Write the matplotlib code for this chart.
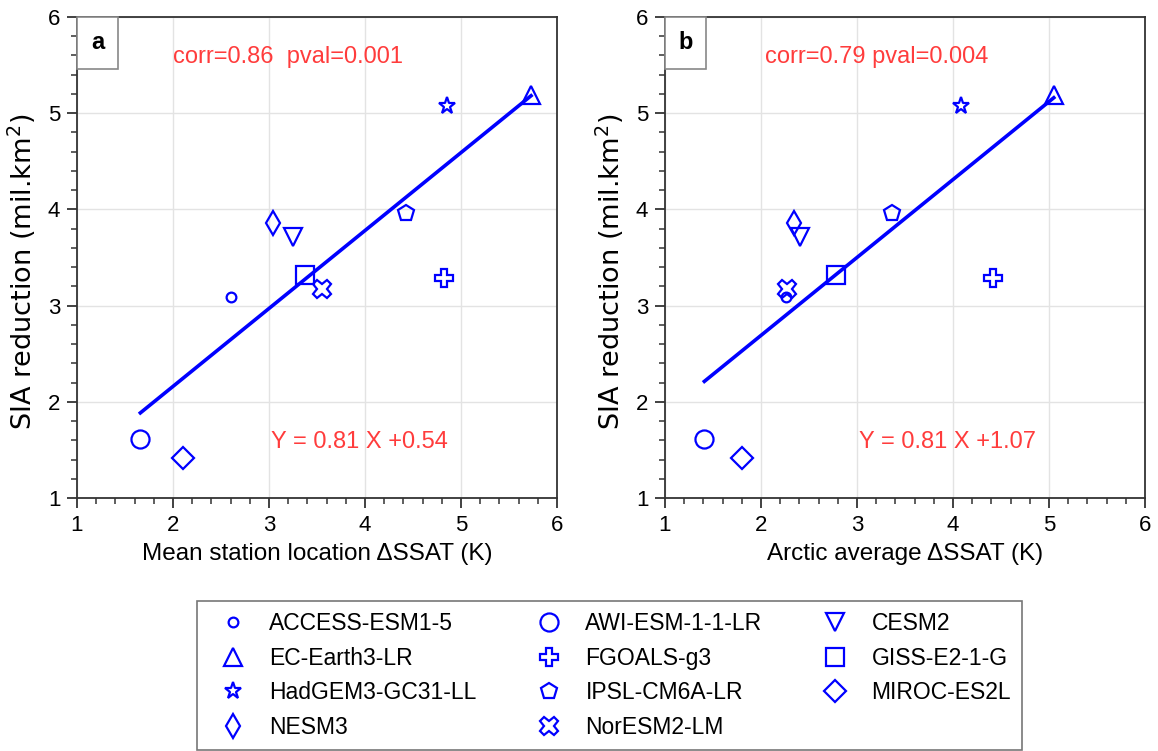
import matplotlib
matplotlib.use("Agg")
import matplotlib.pyplot as plt
from matplotlib.lines import Line2D
from matplotlib.patches import Rectangle
from matplotlib.ticker import MultipleLocator
import numpy as np

plt.rcParams['font.family'] = ['Liberation Sans', 'DejaVu Sans']

models = ["ACCESS-ESM1-5", "AWI-ESM-1-1-LR", "CESM2", "EC-Earth3-LR", "FGOALS-g3",
          "GISS-E2-1-G", "HadGEM3-GC31-LL", "IPSL-CM6A-LR", "MIROC-ES2L", "NESM3",
          "NorESM2-LM"]
markers = ["o", "o", "v", "^", "P", "s", "*", "p", "D", "d", "X"]
msizes = [7, 13, 13, 12.5, 13, 13, 12.5, 12, 11, 12, 13]

sia_reduction = [3.09, 1.61, 3.71, 5.19, 3.29, 3.32, 5.07, 3.96, 1.42, 3.86, 3.17]
dssat_station = [2.60, 1.66, 3.25, 5.73, 4.82, 3.37, 4.85, 4.43, 2.10, 3.04, 3.55]
dssat_arctic = [2.26, 1.41, 2.41, 5.05, 4.42, 2.78, 4.08, 3.36, 1.80, 2.34, 2.27]

panels = [
    dict(tag="a", x=dssat_station, xlabel="Mean station location ΔSSAT (K)",
         corr="corr=0.86  pval=0.001", slope=0.81, icpt=0.54),
    dict(tag="b", x=dssat_arctic, xlabel="Arctic average ΔSSAT (K)",
         corr="corr=0.79 pval=0.004", slope=0.81, icpt=1.07),
]

blue = "#0000ff"
red = "#ff3c3c"

fig = plt.figure(figsize=(11.58, 7.51), dpi=100)
lefts = [77 / 1158, 665 / 1158]

for left, p in zip(lefts, panels):
    ax = fig.add_axes([left, 0.3369, 480 / 1158, 0.6405])
    xs = np.array(p["x"])
    for xi, yi, m, s in zip(xs, sia_reduction, markers, msizes):
        ax.plot(xi, yi, linestyle="none", marker=m, markersize=s,
                markerfacecolor="none", markeredgecolor=blue, markeredgewidth=1.6,
                zorder=3)
    # regression line over the range of the data
    xl = np.array([xs.min(), xs.max()])
    ax.plot(xl, p["slope"] * xl + p["icpt"], color=blue, lw=2.6, zorder=2)

    ax.set_xlim(1, 6)
    ax.set_ylim(1, 6)
    ax.xaxis.set_major_locator(MultipleLocator(1))
    ax.yaxis.set_major_locator(MultipleLocator(1))
    ax.xaxis.set_minor_locator(MultipleLocator(0.2))
    ax.yaxis.set_minor_locator(MultipleLocator(0.2))
    ax.tick_params(which="major", direction="out", length=7, width=1.3,
                   labelsize=16, color="#333333", pad=5)
    ax.tick_params(which="minor", direction="out", length=4, width=1.1,
                   color="#333333")
    for sp in ax.spines.values():
        sp.set_linewidth(1.3)
        sp.set_color("#333333")
    ax.grid(True, which="major", color="#e3e3e3", lw=1)
    ax.set_axisbelow(True)
    ax.set_xlabel(p["xlabel"], fontsize=17.5)
    ax.xaxis.set_label_coords(0.5, -0.093)
    ax.set_ylabel("SIA reduction (mil.km$^2$)", fontsize=19.5,
                  family=["DejaVu Sans"])
    ax.yaxis.set_label_coords(-0.081, 0.47)

    ax.text(3.2, 5.58, p["corr"], color=red, fontsize=17, ha="center", va="center")
    ax.text(3.94, 1.58, "Y = %.2f X +%.2f" % (p["slope"], p["icpt"]),
            color=red, fontsize=17, ha="center", va="center")
    # panel tag in a small box at the upper left corner
    ax.add_patch(Rectangle((0, 1 - 0.108), 0.085, 0.108, transform=ax.transAxes,
                           fc="white", ec="#888888", lw=1.2, zorder=4,
                           clip_on=False))
    ax.text(0.0425, 1 - 0.054, p["tag"], transform=ax.transAxes, fontsize=17,
            fontweight="bold", ha="center", va="center", zorder=5)

handles = [Line2D([], [], linestyle="none", marker=m, markersize=s,
                  markerfacecolor="none", markeredgecolor=blue, markeredgewidth=1.6)
           for m, s in zip(markers, msizes)]
# row-wise order in a column-filled legend
order = [0, 3, 6, 9, 1, 4, 7, 10, 2, 5, 8]
leg = fig.legend([handles[i] for i in order], [models[i] for i in order],
                 loc="upper left", bbox_to_anchor=(197 / 1158, 1 - 601 / 751),
                 ncol=3, fontsize=16.5, frameon=True, fancybox=False,
                 edgecolor="#555555", handlelength=2.1, columnspacing=2.1,
                 labelspacing=0.5, borderpad=0.5, handletextpad=0.55,
                 borderaxespad=0)
leg.get_frame().set_linewidth(1.2)

fig.savefig("out.png", dpi=100)
